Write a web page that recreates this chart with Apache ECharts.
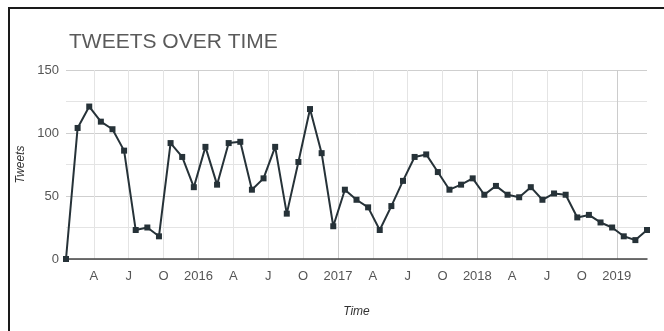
<!DOCTYPE html>
<html>
<head>
<meta charset="utf-8">
<script src="https://cdn.jsdelivr.net/npm/echarts@6/dist/echarts.min.js"></script>
<style>
  html, body { margin: 0; padding: 0; background: #fff; width: 664px; height: 331px; overflow: hidden; }
  #chart { position: absolute; left: 0; top: 0; width: 664px; height: 331px; }
</style>
</head>
<body>
<div id="chart"></div>
<script>
// Monthly categories (Jan 2015 - Mar 2019)
const months = [
  '2015-01','2015-02','2015-03','2015-04','2015-05','2015-06','2015-07','2015-08','2015-09','2015-10','2015-11','2015-12',
  '2016-01','2016-02','2016-03','2016-04','2016-05','2016-06','2016-07','2016-08','2016-09','2016-10','2016-11','2016-12',
  '2017-01','2017-02','2017-03','2017-04','2017-05','2017-06','2017-07','2017-08','2017-09','2017-10','2017-11','2017-12',
  '2018-01','2018-02','2018-03','2018-04','2018-05','2018-06','2018-07','2018-08','2018-09','2018-10','2018-11','2018-12',
  '2019-01','2019-02','2019-03'
];
// Tweets per month
const tweets = [
  0,104,121,109,103,86,23,25,18,92,81,57,
  89,59,92,93,55,64,89,36,77,119,84,26,
  55,47,41,23,42,62,81,83,69,55,59,64,
  51,58,51,49,57,47,52,51,33,35,29,25,
  18,15,23
];
// Axis tick dates and labels
const tickMonths = ['2015-04','2015-07','2015-10','2016-01','2016-04','2016-07','2016-10','2017-01',
                    '2017-04','2017-07','2017-10','2018-01','2018-04','2018-07','2018-10','2019-01'];
const tickLabels = ['A','J','O','2016','A','J','O','2017','A','J','O','2018','A','J','O','2019'];
const yTickLabels = [0, 50, 100, 150];

function monthIndex(s) {
  const [y, m] = s.split('-').map(Number);
  return (y - 2015) * 12 + (m - 1);
}
const POINT_OFFSET = 0.6; // points sit mid-month
const tickPos = tickMonths.map(monthIndex);
const labelMap = {};
tickPos.forEach((p, i) => { labelMap[p] = tickLabels[i]; });
const seriesData = months.map((m, i) => [monthIndex(m) + POINT_OFFSET, tweets[i]]);

const chart = echarts.init(document.getElementById('chart'), null, { renderer: 'canvas' });
chart.setOption({
  animation: false,
  textStyle: { fontFamily: 'Arial, "Liberation Sans", sans-serif' },
  graphic: [
    { type: 'polyline', silent: true, z: 100,
      shape: { points: [[9, 340], [9, 8], [670, 8]] },
      style: { stroke: '#1a1a1a', lineWidth: 2, fill: null } }
  ],
  title: {
    text: 'TWEETS OVER TIME',
    left: 64, top: 27,
    textStyle: { fontSize: 21, fontWeight: 'normal', color: '#5a5a5a', fontFamily: 'Arial, "Liberation Sans", sans-serif' }
  },
  grid: { left: 66, right: 17, top: 70, bottom: 72, containLabel: false },
  xAxis: {
    type: 'value',
    min: seriesData[0][0],
    max: seriesData[seriesData.length - 1][0],
    axisLine: { show: true, lineStyle: { color: '#444', width: 1.5 } },
    axisTick: { show: false, customValues: tickPos },
    axisLabel: {
      customValues: tickPos,
      formatter: v => labelMap[Math.round(v)] || '',
      color: '#555', fontSize: 13, margin: 11
    },
    splitLine: { show: true, lineStyle: { color: ['#e4e4e4', '#e4e4e4', '#e4e4e4', '#cccccc'], width: 1 } },
    name: 'Time', nameLocation: 'middle', nameGap: 47,
    nameTextStyle: { fontStyle: 'italic', color: '#333', fontSize: 12 }
  },
  yAxis: {
    type: 'value',
    min: 0, max: 150, interval: 25,
    axisLine: { show: false },
    axisTick: { show: false },
    axisLabel: {
      formatter: v => (yTickLabels.indexOf(v) >= 0 ? String(v) : ''),
      color: '#555', fontSize: 13, margin: 7
    },
    splitLine: { show: true, lineStyle: { color: ['#cfcfcf', '#e4e4e4'], width: 1 } },
    name: 'Tweets', nameLocation: 'middle', nameRotate: 90, nameGap: 37,
    nameTextStyle: { fontStyle: 'italic', color: '#333', fontSize: 12 }
  },
  series: [{
    type: 'line',
    data: seriesData,
    symbol: 'rect',
    symbolSize: 6,
    showSymbol: true,
    lineStyle: { color: '#263238', width: 2 },
    itemStyle: { color: '#263238' }
  }]
});
</script>
</body>
</html>
